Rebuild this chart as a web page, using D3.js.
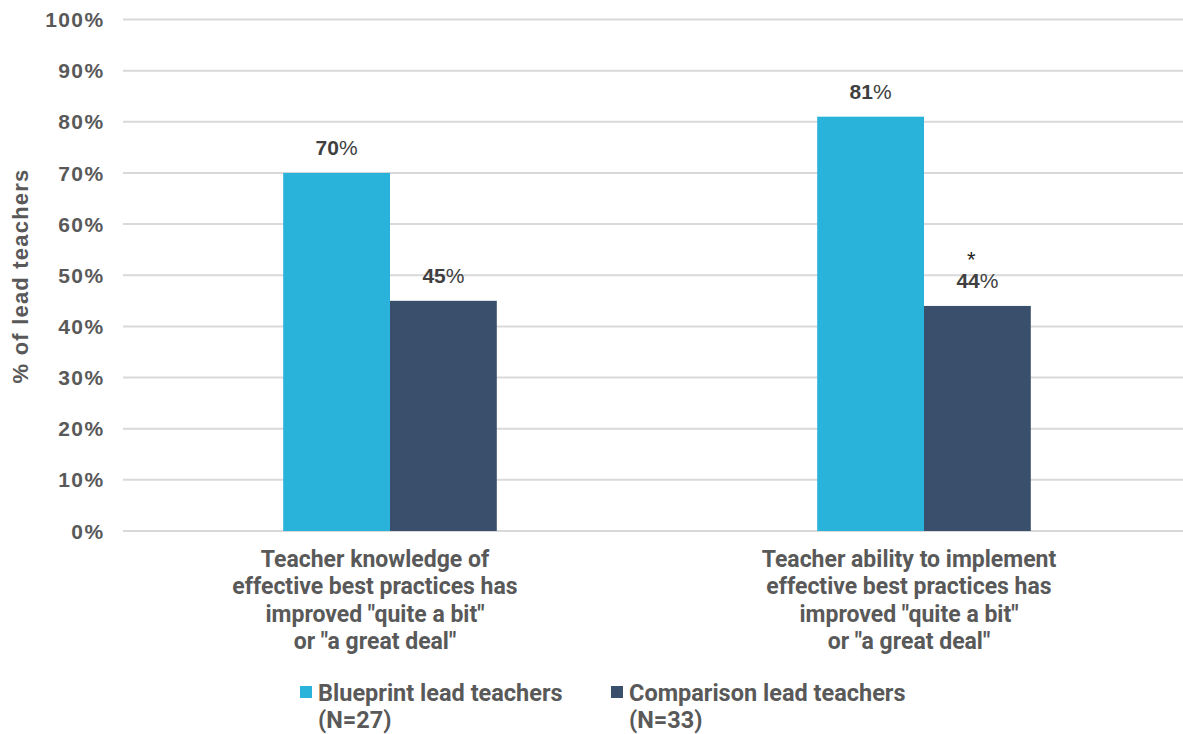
<!DOCTYPE html>
<html lang="en">
<head>
<meta charset="utf-8">
<title>Lead teachers</title>
<script src="https://d3js.org/d3.v7.min.js"></script>
<style>
  body { margin: 0; background: #fff; }
  .tick-lbl { font-family: "Liberation Sans", Arial, sans-serif; font-weight: bold; font-size: 21px; letter-spacing: 1.4px; fill: #595959; }
  .val { font-family: "Liberation Sans", Arial, sans-serif; font-weight: bold; font-size: 21px; fill: #404040; }
  .cat { font-family: "Liberation Sans Narrow", "Roboto", sans-serif; font-weight: bold; font-size: 23px; fill: #595959; }
  .leg { font-family: "Liberation Sans Narrow", "Roboto", sans-serif; font-weight: bold; font-size: 23.5px; fill: #595959; }
</style>
</head>
<body>
<div id="viz"></div>
<script>
// data
var categories = [
  ["Teacher knowledge of", "effective best practices has", "improved \"quite a bit\"", "or \"a great deal\""],
  ["Teacher ability to implement", "effective best practices has", "improved \"quite a bit\"", "or \"a great deal\""]
];
var catKeys = ["knowledge", "ability"];
var series = ["Blueprint lead teachers", "Comparison lead teachers"];
var seriesN = ["(N=27)", "(N=33)"];
var blueprint = [70, 81];
var comparison = [45, 44];
var starred = [false, true]; // comparison value flagged with *
var yTicks = [0, 10, 20, 30, 40, 50, 60, 70, 80, 90, 100];

var colors = ["#29B2DA", "#3A4F6B"];

var W = 1183, H = 734;
var svg = d3.select("#viz").append("svg").attr("width", W).attr("height", H);

var x = d3.scaleBand().domain(catKeys).range([123, 1191]).paddingInner(0).paddingOuter(0);
var y = d3.scaleLinear().domain([0, 100]).range([531, 19.5]);
var xSub = d3.scaleBand().domain(series).range([0, x.bandwidth()]).paddingInner(0).paddingOuter(1.5);

// gridlines
svg.append("g").selectAll("line").data(yTicks).enter().append("line")
  .attr("x1", 123).attr("x2", W)
  .attr("y1", function(d){ return y(d); }).attr("y2", function(d){ return y(d); })
  .attr("stroke", "#D9D9D9").attr("stroke-width", 2);

// y labels
svg.append("g").selectAll("text").data(yTicks).enter().append("text")
  .attr("class", "tick-lbl")
  .attr("x", 104.5).attr("y", function(d){ return y(d); })
  .attr("dy", "0.36em").attr("text-anchor", "end")
  .text(function(d){ return d + "%"; });

// y title
svg.append("text")
  .attr("transform", "translate(28," + 276 + ") rotate(-90)")
  .attr("text-anchor", "middle")
  .style("font-family", "'Liberation Sans', Arial, sans-serif")
  .style("font-weight", "bold")
  .style("font-size", "22px")
  .style("letter-spacing", "1.2px")
  .style("fill", "#595959")
  .text("% of lead teachers");

var rows = catKeys.map(function(k, i){
  return [
    {cat: k, key: series[0], value: blueprint[i], star: false},
    {cat: k, key: series[1], value: comparison[i], star: starred[i]}
  ];
});

var groups = svg.append("g").selectAll("g").data(rows).enter().append("g")
  .attr("transform", function(d){ return "translate(" + x(d[0].cat) + ",0)"; });

groups.selectAll("rect").data(function(d){ return d; }).enter().append("rect")
  .attr("x", function(d){ return xSub(d.key); })
  .attr("y", function(d){ return y(d.value); })
  .attr("width", xSub.bandwidth())
  .attr("height", function(d){ return y(0) - y(d.value); })
  .attr("fill", function(d, i){ return colors[i]; });

var vl = groups.selectAll("text.val").data(function(d){ return d; }).enter().append("text")
  .attr("class", "val")
  .attr("x", function(d){ return xSub(d.key) + xSub.bandwidth() / 2; })
  .attr("y", function(d){ return y(d.value) - 18; })
  .attr("text-anchor", "middle");
vl.append("tspan").text(function(d){ return d.value; });
vl.append("tspan").style("font-weight", "normal").text("%");

groups.selectAll("text.star").data(function(d){ return d.filter(function(e){ return e.star; }); })
  .enter().append("text")
  .attr("x", function(d){ return xSub(d.key) + xSub.bandwidth() / 2 - 6; })
  .attr("y", function(d){ return y(d.value) - 39; })
  .attr("text-anchor", "middle")
  .style("font-family", "'Liberation Sans', Arial, sans-serif")
  .style("font-size", "22px")
  .style("fill", "#222")
  .text("*");

// category labels (centred slightly left of the band centre, as in the source)
svg.append("g").selectAll("text").data(catKeys).enter().append("text")
  .attr("class", "cat")
  .attr("y", 567)
  .attr("text-anchor", "middle")
  .each(function(d, i){
    var t = d3.select(this);
    var cx = x(d) + x.bandwidth() / 2 - 15;
    categories[i].forEach(function(line, j){
      t.append("tspan").attr("x", cx).attr("dy", j ? 27.3 : 0).text(line);
    });
  });

// legend
var legX = [300, 611];
var leg = svg.append("g").selectAll("g").data(series).enter().append("g")
  .attr("transform", function(d, i){ return "translate(" + legX[i] + ",0)"; });
leg.append("rect").attr("x", 0).attr("y", 686).attr("width", 12).attr("height", 12)
  .attr("fill", function(d, i){ return colors[i]; });
leg.append("text").attr("class", "leg").attr("x", 18).attr("y", 701)
  .text(function(d){ return d; });
leg.append("text").attr("class", "leg").attr("x", 18).attr("y", 728)
  .text(function(d, i){ return seriesN[i]; });
</script>
</body>
</html>
